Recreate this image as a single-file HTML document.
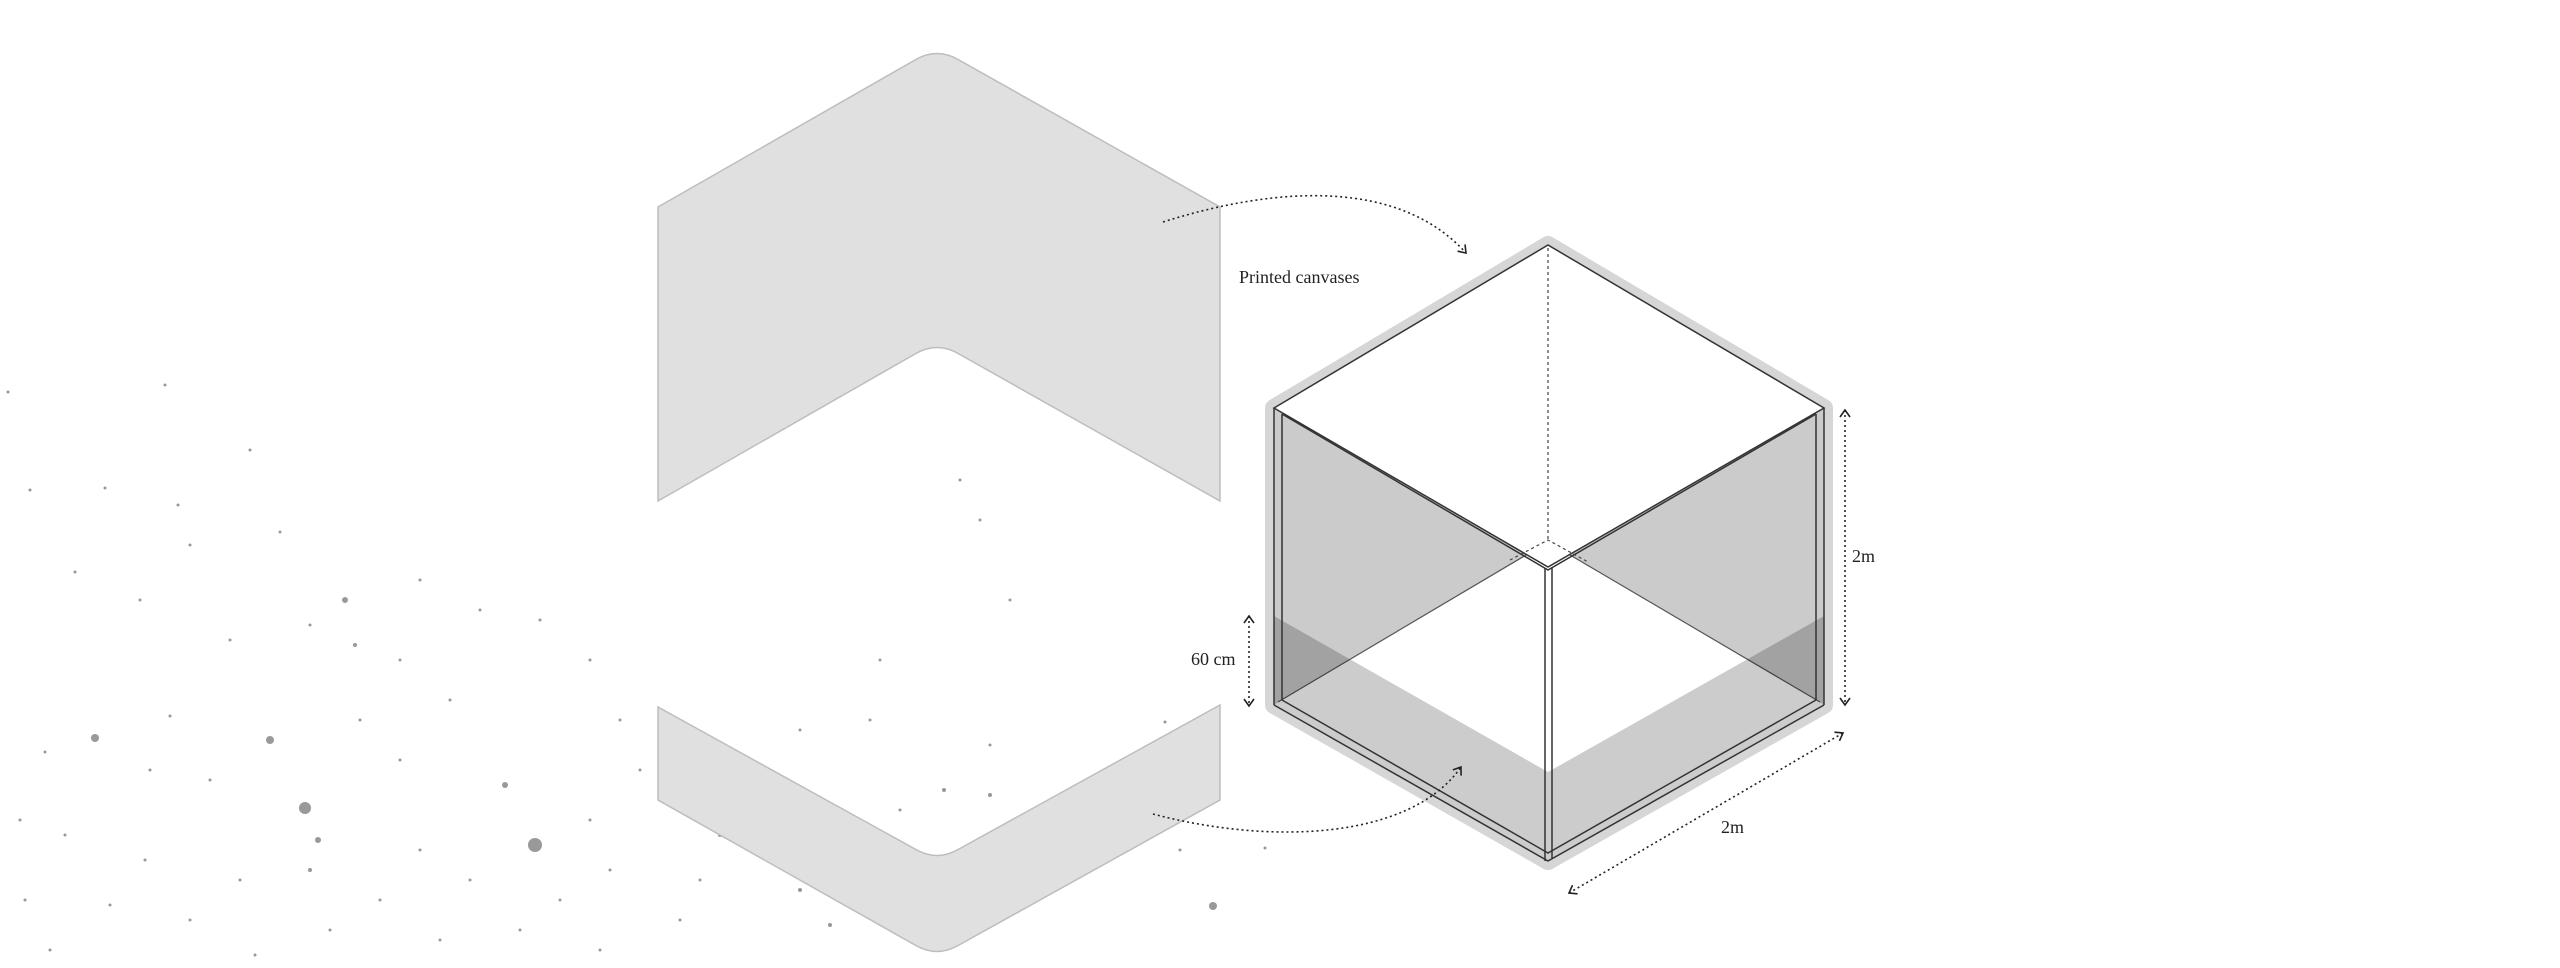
<!DOCTYPE html>
<html><head><meta charset="utf-8"><style>
html,body{margin:0;padding:0;background:#fff;width:2560px;height:968px;overflow:hidden}
svg{display:block}
text{font-family:"Liberation Serif",serif;fill:#222}
</style></head><body>
<svg width="2560" height="968" viewBox="0 0 2560 968" xmlns="http://www.w3.org/2000/svg">
<defs>
<marker id="ah" markerWidth="12" markerHeight="12" refX="9" refY="6" orient="auto" markerUnits="userSpaceOnUse">
<path d="M2,1 L9,6 L2,11" fill="none" stroke="#222" stroke-width="1.6"/></marker>
<marker id="ahs" markerWidth="12" markerHeight="12" refX="9" refY="6" orient="auto-start-reverse" markerUnits="userSpaceOnUse">
<path d="M2,1 L9,6 L2,11" fill="none" stroke="#222" stroke-width="1.6"/></marker>
</defs>

<!-- speckles -->
<g fill="#999">
<circle cx="8" cy="392" r="1.5"/><circle cx="165" cy="385" r="1.5"/><circle cx="30" cy="490" r="1.5"/><circle cx="105" cy="488" r="1.5"/><circle cx="178" cy="505" r="1.5"/><circle cx="250" cy="450" r="1.5"/><circle cx="280" cy="532" r="1.5"/><circle cx="345" cy="600" r="3"/><circle cx="75" cy="572" r="1.5"/><circle cx="190" cy="545" r="1.5"/><circle cx="140" cy="600" r="1.5"/><circle cx="230" cy="640" r="1.5"/><circle cx="310" cy="625" r="1.5"/><circle cx="355" cy="645" r="2"/><circle cx="400" cy="660" r="1.5"/><circle cx="420" cy="580" r="1.5"/><circle cx="480" cy="610" r="1.5"/><circle cx="540" cy="620" r="1.5"/><circle cx="590" cy="660" r="1.5"/><circle cx="620" cy="720" r="1.5"/><circle cx="640" cy="770" r="1.5"/><circle cx="95" cy="738" r="4"/><circle cx="170" cy="716" r="1.5"/><circle cx="270" cy="740" r="4"/><circle cx="305" cy="808" r="6"/><circle cx="318" cy="840" r="3"/><circle cx="310" cy="870" r="2"/><circle cx="535" cy="845" r="7"/><circle cx="505" cy="785" r="3"/><circle cx="45" cy="752" r="1.5"/><circle cx="65" cy="835" r="1.5"/><circle cx="25" cy="900" r="1.5"/><circle cx="110" cy="905" r="1.5"/><circle cx="145" cy="860" r="1.5"/><circle cx="190" cy="920" r="1.5"/><circle cx="240" cy="880" r="1.5"/><circle cx="255" cy="955" r="1.5"/><circle cx="330" cy="930" r="1.5"/><circle cx="380" cy="900" r="1.5"/><circle cx="420" cy="850" r="1.5"/><circle cx="440" cy="940" r="1.5"/><circle cx="470" cy="880" r="1.5"/><circle cx="520" cy="930" r="1.5"/><circle cx="560" cy="900" r="1.5"/><circle cx="600" cy="950" r="1.5"/><circle cx="590" cy="820" r="1.5"/><circle cx="610" cy="870" r="1.5"/><circle cx="400" cy="760" r="1.5"/><circle cx="360" cy="720" r="1.5"/><circle cx="450" cy="700" r="1.5"/><circle cx="210" cy="780" r="1.5"/><circle cx="150" cy="770" r="1.5"/><circle cx="680" cy="920" r="1.5"/><circle cx="700" cy="880" r="1.5"/><circle cx="720" cy="835" r="2"/><circle cx="750" cy="780" r="2"/><circle cx="780" cy="860" r="2"/><circle cx="800" cy="890" r="2"/><circle cx="830" cy="925" r="2"/><circle cx="870" cy="880" r="2"/><circle cx="900" cy="810" r="1.5"/><circle cx="990" cy="795" r="2"/><circle cx="1037" cy="835" r="4"/><circle cx="1060" cy="800" r="2"/><circle cx="1120" cy="780" r="1.5"/><circle cx="1213" cy="906" r="4"/><circle cx="1165" cy="722" r="1.5"/><circle cx="800" cy="730" r="1.5"/><circle cx="870" cy="720" r="1.5"/><circle cx="944" cy="790" r="2"/><circle cx="990" cy="745" r="1.5"/><circle cx="745" cy="408" r="2"/><circle cx="1166" cy="448" r="2.5"/><circle cx="960" cy="480" r="1.5"/><circle cx="980" cy="520" r="1.5"/><circle cx="1010" cy="600" r="1.5"/><circle cx="880" cy="660" r="1.5"/><circle cx="20" cy="820" r="1.5"/><circle cx="50" cy="950" r="1.5"/><circle cx="1180" cy="850" r="1.5"/><circle cx="1265" cy="848" r="1.5"/>
</g>

<!-- panels -->
<path d="M658,207 L915,60 Q937,47 959,60 L1220,207 L1220,501 L959,354 Q937,341 915,354 L658,501 Z" fill="#e0e0e0" stroke="#bdbdbd" stroke-width="1.5"/>
<path d="M658,707 L915,849 Q937,862 959,849 L1220,705 L1220,800 L959,945 Q937,958 915,945 L658,800 Z" fill="#e0e0e0" stroke="#bdbdbd" stroke-width="1.5"/>

<!-- cube halo -->
<path d="M1274,408 L1548,245 L1824,408 L1824,705 L1548,861 L1274,705 Z" fill="#d6d6d6" stroke="#d6d6d6" stroke-width="18" stroke-linejoin="round"/>
<path d="M1274,408 L1548,245 L1824,408 L1824,705 L1548,861 L1274,705 Z" fill="#fff"/>
<!-- back walls -->
<path d="M1274,408 L1548,245 L1548,542 L1274,705 Z" fill="#cbcbcb"/>
<path d="M1824,408 L1548,245 L1548,542 L1824,705 Z" fill="#cbcbcb"/>
<!-- floor -->
<path d="M1274,705 L1548,542 L1824,705 L1548,861 Z" fill="#fff"/>
<line x1="1548" y1="542" x2="1278" y2="702" stroke="#555" stroke-width="1.2"/>
<line x1="1548" y1="542" x2="1820" y2="702" stroke="#555" stroke-width="1.2"/>
<line x1="1548" y1="545" x2="1280" y2="704" stroke="#fff" stroke-width="2"/>
<line x1="1548" y1="545" x2="1818" y2="704" stroke="#fff" stroke-width="2"/>
<!-- top face -->
<path d="M1274,408 L1548,245 L1824,408 L1548,567 Z" fill="#fff"/>
<line x1="1548" y1="248" x2="1548" y2="542" stroke="#444" stroke-width="1.2" stroke-dasharray="3,3"/>
<path d="M1510,560 L1548,540 L1588,562" fill="none" stroke="#444" stroke-width="1.2" stroke-dasharray="3,3"/>
<!-- 60cm band -->
<path d="M1274,616 L1548,772 L1824,616 L1824,705 L1548,861 L1274,705 Z" fill="rgba(0,0,0,0.2)"/>
<!-- frame lines -->
<g fill="none" stroke="#333" stroke-width="1.5">
<path d="M1274,408 L1548,245 L1824,408 L1548,567 Z"/>
<path d="M1282,414 L1548,570 L1816,414"/>
<line x1="1274" y1="408" x2="1274" y2="705"/>
<line x1="1282" y1="414" x2="1282" y2="700"/>
<line x1="1824" y1="408" x2="1824" y2="705"/>
<line x1="1816" y1="414" x2="1816" y2="700"/>
<line x1="1545" y1="568" x2="1545" y2="861"/>
<line x1="1552" y1="568" x2="1552" y2="858"/>
<path d="M1274,705 L1548,861 L1824,705"/>
<path d="M1282,700 L1548,853 L1816,700"/>
</g>
<!-- connectors -->
<g fill="none" stroke="#222" stroke-width="1.6" stroke-dasharray="2,3">
<path d="M1163,222 C1280,185 1400,180 1466,253" marker-end="url(#ah)"/>
<path d="M1153,814 C1270,845 1410,840 1461,767" marker-end="url(#ah)"/>
<line x1="1249" y1="616" x2="1249" y2="706" marker-start="url(#ahs)" marker-end="url(#ah)"/>
<line x1="1845" y1="410" x2="1845" y2="705" marker-start="url(#ahs)" marker-end="url(#ah)"/>
<line x1="1569" y1="893" x2="1843" y2="733" marker-start="url(#ahs)" marker-end="url(#ah)"/>
</g>
<text x="1239" y="283" font-size="18">Printed canvases</text>
<text x="1191" y="665" font-size="18">60 cm</text>
<text x="1852" y="562" font-size="18">2m</text>
<text x="1721" y="833" font-size="18">2m</text>
</svg>
</body></html>
